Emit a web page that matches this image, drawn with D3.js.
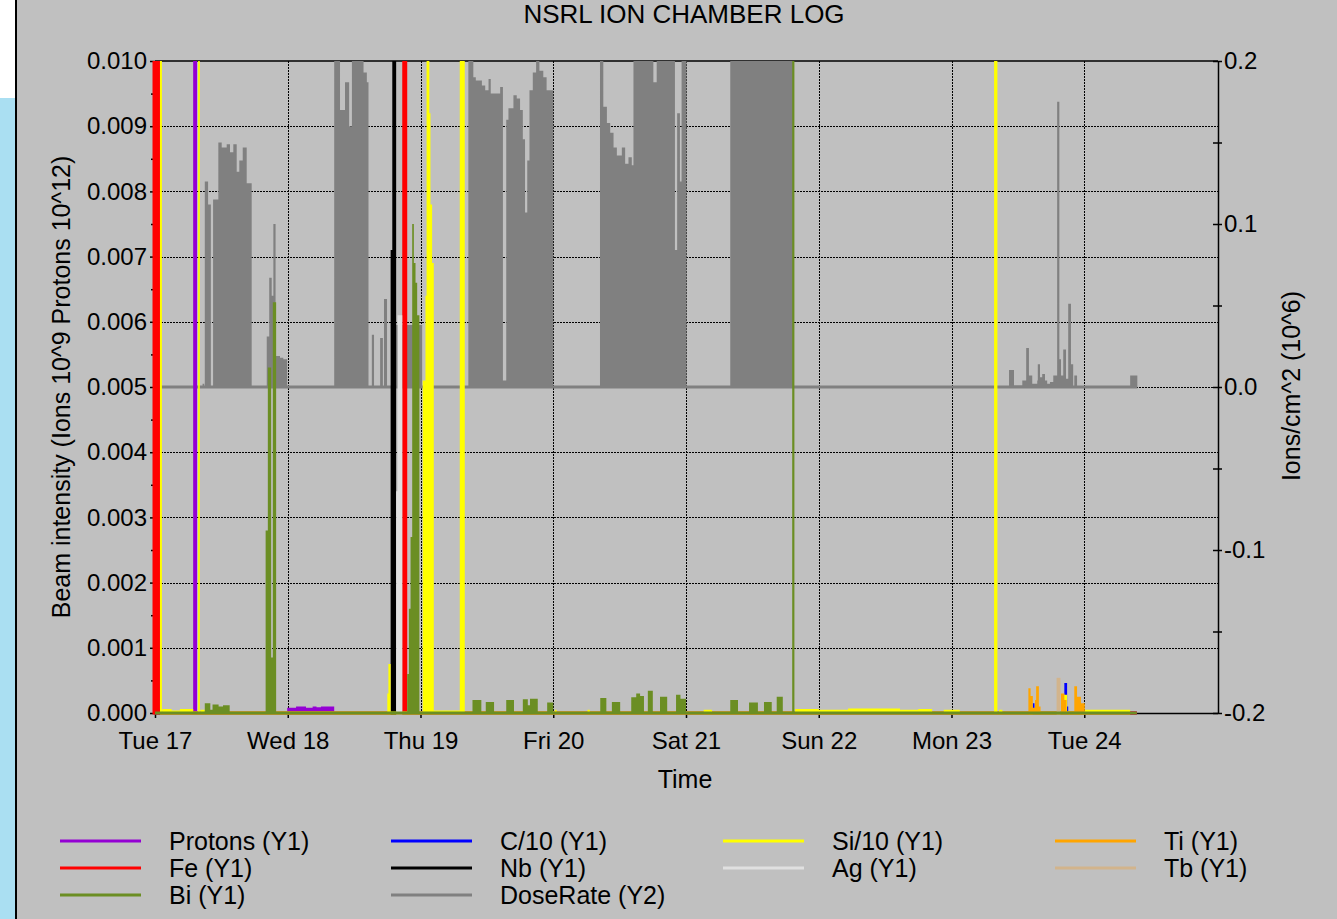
<!DOCTYPE html>
<html>
<head>
<meta charset="utf-8">
<script src="https://cdn.jsdelivr.net/npm/d3@7"></script>
<style>
  body { margin: 0; background: #c0c0c0; overflow: hidden; }
  svg text { font-family: "Liberation Sans", Arial, Helvetica, sans-serif; fill: #000; }
</style>
</head>
<body>
<svg id="chart" width="1337" height="919"></svg>
<script>
// ---- data: [hours since Tue 17 00:00, value] ----
var baseDate = new Date(2019, 8, 17); // Tue 17
var dayLabels = ["Tue 17", "Wed 18", "Thu 19", "Fri 20", "Sat 21", "Sun 22", "Mon 23", "Tue 24"];
var y1Ticks = [0, 0.001, 0.002, 0.003, 0.004, 0.005, 0.006, 0.007, 0.008, 0.009, 0.010];
var y2Ticks = [-0.2, -0.1, 0.0, 0.1, 0.2];

var seriesNames = ["Protons (Y1)", "Fe (Y1)", "Bi (Y1)", "C/10 (Y1)", "Nb (Y1)", "DoseRate (Y2)",
                   "Si/10 (Y1)", "Ag (Y1)", "Ti (Y1)", "Tb (Y1)"];
var seriesColors = ["#9400d3", "#ff0000", "#6b8e23", "#0000ff", "#000000", "#808080",
                    "#ffff00", "#e0e0e0", "#ffa500", "#d2b48c"];

var protons = [[0, 0], [6.9, 0.012], [7.6, 0], [23.9, 0.00008], [25.5, 0.0001], [27.3, 0.00008],
  [28.5, 0.0001], [29.2, 0.00009], [30.0, 0.0001], [32.4, 0], [177.5, 0]];

var fe = [[-0.45, 0.012], [0.9, 0], [44.7, 0.012], [45.6, 0], [177.5, 0]];

var bi = [[0, 0], [9.0, 0.00015], [10.0, 0.00005], [10.4, 0.00013], [11.5, 0.0001], [12.3, 0.00012],
  [13.5, 0], [20.0, 0.0028], [20.4, 0.0053], [21.0, 0.00085], [21.3, 0.0063], [21.9, 0],
  [45.6, 0.0006], [45.9, 0.0016], [46.2, 0.0027], [46.5, 0.0075], [46.8, 0.0069], [47.1, 0.0066],
  [47.4, 0.0061], [47.8, 0], [57.4, 0.0002], [59.0, 0], [59.8, 0.00017], [61.3, 0],
  [63.5, 0.0002], [64.9, 0], [66.5, 0.00021], [67.4, 0.00012], [67.8, 0.00022], [69.2, 0],
  [70.9, 0.00016], [72.0, 0], [80.5, 0.00023], [81.6, 0], [82.6, 0.00017], [84.1, 0],
  [86.1, 0.00024], [87.0, 0.0003], [87.7, 0.00026], [88.4, 0], [89.1, 0.00034], [90.0, 0],
  [91.3, 0.00025], [92.6, 0], [94.2, 0.00028], [95.0, 0.00022], [96.0, 0], [104.0, 0.0002],
  [105.4, 0], [107.4, 0.00016], [109.0, 0], [110.1, 0.00017], [111.5, 0], [112.4, 0.00025],
  [113.5, 0], [115.2, 0.012], [115.6, 0], [177.5, 0]];

var c10 = [[158.7, 0.00015], [159.0, 0], [164.4, 0.00046], [164.9, 0.0001], [165.1, 0]];

var nb = [[42.6, 0.0071], [42.9, 0.012], [43.6, 0]];

var doseRate = [[0, 0], [8.6, 0.002], [8.9, 0], [9.0, 0.126], [9.6, 0.112], [10.1, 0],
  [10.5, 0.115], [11.45, 0.150], [12.06, 0.147], [12.96, 0.149], [13.56, 0.144], [14.16, 0.149],
  [14.77, 0.132], [15.24, 0.139], [15.86, 0.147], [16.58, 0.125], [17.48, 0],
  [20.2, 0.031], [20.65, 0.067], [21.1, 0.056], [21.4, 0.100], [21.8, 0.019], [22.6, 0.018],
  [23.2, 0.017], [23.9, 0], [32.4, 0.25], [33.45, 0.170], [34.35, 0.187], [35.1, 0.160],
  [35.6, 0.25], [37.7, 0.193], [38.3, 0.187], [38.6, 0], [39.2, 0.032], [39.6, 0],
  [40.7, 0.030], [41.2, 0], [41.4, 0.054], [41.95, 0], [43.6, 0.038], [48.3, 0],
  [56.65, 0.25], [57.55, 0.190], [58.0, 0.188], [59.1, 0.185], [59.7, 0.182], [60.3, 0.189],
  [60.7, 0.180], [62.4, 0.184], [62.9, 0.004], [63.5, 0.164], [63.9, 0.171], [64.8, 0.179],
  [65.4, 0.177], [66.0, 0.170], [66.5, 0.152], [66.9, 0.107], [67.3, 0.139], [67.7, 0.182],
  [68.3, 0.193], [68.9, 0.25], [69.5, 0.194], [70.2, 0.190], [70.8, 0.182], [72.0, 0],
  [80.45, 0.25], [81.05, 0.172], [81.7, 0.162], [82.3, 0.156], [82.9, 0.147], [83.5, 0.142],
  [84.4, 0.147], [85.0, 0.137], [85.6, 0.141], [86.2, 0.136], [86.5, 0.25], [90.1, 0.187],
  [90.7, 0.25], [94.0, 0.084], [94.4, 0.168], [94.9, 0.126], [95.2, 0.25], [96.1, 0],
  [104.0, 0.25], [115.4, 0], [154.4, 0.0104], [155.3, 0.001], [156.8, 0.004], [157.5, 0.024],
  [158.0, 0.007], [158.6, 0.002], [159.5, 0.004], [159.6, 0.014], [160.0, 0.006], [160.4, 0.008],
  [160.9, 0.004], [161.3, 0.002], [161.8, 0.003], [162.4, 0.007], [163.1, 0.175], [163.5, 0.017],
  [163.8, 0.007], [164.2, 0.023], [164.7, 0.005], [165.1, 0.051], [165.6, 0.014], [166.0, 0],
  [166.2, 0.007], [166.7, 0], [176.3, 0.007], [177.6, 0]];

var si10 = [[0.9, 0.012], [1.25, 0], [1.3, 0.00006], [3.0, 0.00004], [4.5, 0.00006], [6.9, 0],
  [7.8, 0.012], [8.1, 0], [8.2, 0.00005], [9.0, 0], [42.0, 0.0003], [42.2, 0.00075], [42.6, 0],
  [48.4, 0.0051], [48.9, 0.0064], [49.1, 0.012], [49.6, 0.0092], [49.8, 0.0078], [50.1, 0.0069],
  [50.4, 0.00004], [55.1, 0.012], [56.0, 0], [72.3, 0.00005], [72.6, 0], [78.2, 0.00005],
  [78.6, 0], [99.2, 0.00005], [100.7, 0], [115.7, 0.00006], [120.0, 0.00005], [125.3, 0.00007],
  [134.7, 0.00005], [138.0, 0.00006], [140.5, 0], [142.6, 0.00005], [145.5, 0], [151.7, 0.012],
  [152.3, 0], [152.6, 0.00005], [153.2, 0], [164.2, 0.00028], [164.9, 0], [168.1, 0.00005],
  [176.3, 0]];

var ag = [[43.6, 0.0034], [43.85, 0.0061], [44.7, 0]];

var ti = [[157.9, 0.00038], [158.3, 0.00026], [158.7, 0.00008], [159.1, 0.0002], [159.3, 0.00041],
  [159.8, 0.0001], [160.1, 0], [163.8, 0.0003], [164.4, 0.0002], [164.8, 0], [166.2, 0.00041],
  [166.7, 0.00025], [167.4, 0.00015], [168.1, 0]];

var tb = [[163.0, 0.00054], [163.7, 0]];

// ---- chart ----
var svg = d3.select("#chart");
var plotLeft = 155, plotRight = 1218, plotTop = 61, plotBottom = 713;

function toDate(h) { return new Date(baseDate.getTime() + h * 3600000); }
var dayTicks = dayLabels.map(function (d, i) { return d3.timeDay.offset(baseDate, i); });

var x = d3.scaleTime().domain([baseDate, d3.timeDay.offset(baseDate, 8)]).range([plotLeft, 1217]);
var y1 = d3.scaleLinear().domain([0, 0.010]).range([plotBottom, plotTop]);
var y2 = d3.scaleLinear().domain([-0.2, 0.2]).range([plotBottom, plotTop]);

// left strip
svg.append("rect").attr("x", 0).attr("y", 0).attr("width", 16).attr("height", 98).attr("fill", "#ffffff");
svg.append("rect").attr("x", 0).attr("y", 98).attr("width", 16).attr("height", 821).attr("fill", "#aadff2");
svg.append("line").attr("x1", 16).attr("x2", 16).attr("y1", 0).attr("y2", 919)
  .attr("stroke", "#000").attr("stroke-width", 2);

// title
svg.append("text").attr("x", 684).attr("y", 23).attr("text-anchor", "middle")
  .style("font-size", "26px").text("NSRL ION CHAMBER LOG");

// gridlines
var grid = svg.append("g").attr("stroke", "#000").attr("stroke-width", 1).attr("stroke-dasharray", "2,1");
grid.selectAll("line.h").data(y1Ticks.filter(function (d) { return d > 0 && d < 0.010; }))
  .enter().append("line").attr("class", "h")
  .attr("x1", plotLeft).attr("x2", plotRight)
  .attr("y1", function (d) { return Math.round(y1(d)) + 0.5; })
  .attr("y2", function (d) { return Math.round(y1(d)) + 0.5; });
grid.selectAll("line.v").data(dayTicks.slice(1))
  .enter().append("line").attr("class", "v")
  .attr("x1", function (d) { return Math.round(x(d)) + 0.5; })
  .attr("x2", function (d) { return Math.round(x(d)) + 0.5; })
  .attr("y1", plotTop).attr("y2", plotBottom);

// frame top
svg.append("line").attr("x1", plotLeft).attr("x2", plotRight).attr("y1", plotTop).attr("y2", plotTop)
  .attr("stroke", "#000").attr("stroke-width", 1.5);

// left axis
var leftAxis = svg.append("g").attr("transform", "translate(" + plotLeft + ",0)")
  .call(d3.axisLeft(y1).tickValues(y1Ticks).tickFormat(d3.format(".3f")).tickSize(5).tickPadding(3).tickSizeOuter(0));
svg.append("g").attr("transform", "translate(" + plotLeft + ",0)")
  .call(d3.axisLeft(y1).tickValues(y1Ticks.slice(1).map(function (d) { return d - 0.0005; }))
    .tickFormat("").tickSize(4).tickSizeOuter(0))
  .select(".domain").remove();

// right axis
var rightAxis = svg.append("g").attr("transform", "translate(" + plotRight + ",0)")
  .call(d3.axisRight(y2).tickValues(y2Ticks).tickFormat(function (d) { return d.toFixed(1); })
    .tickSize(4).tickPadding(2).tickSizeOuter(0));
rightAxis.selectAll(".tick line").attr("x1", -5).attr("x2", 4);
var rightMinor = svg.append("g").attr("transform", "translate(" + plotRight + ",0)")
  .call(d3.axisRight(y2).tickValues([-0.15, -0.05, 0.05, 0.15]).tickFormat("").tickSize(4).tickSizeOuter(0));
rightMinor.select(".domain").remove();
rightMinor.selectAll(".tick line").attr("x1", -5).attr("x2", 4);

// bottom axis
var bottomAxis = svg.append("g").attr("transform", "translate(0," + plotBottom + ")")
  .call(d3.axisBottom(x).tickValues(dayTicks).tickFormat(function (d, i) { return dayLabels[i]; })
    .tickSize(5).tickPadding(14).tickSizeOuter(0));
bottomAxis.select(".domain").attr("d", "M" + plotLeft + ",0.5H" + plotRight);

[leftAxis, rightAxis, bottomAxis].forEach(function (g) {
  g.attr("font-family", null).attr("font-size", null);
  g.selectAll("text").style("font-size", "24px");
});
svg.selectAll(".domain, .tick line").attr("stroke", "#000").attr("stroke-width", 1.5);

// axis titles
svg.append("text").attr("x", 685).attr("y", 788).attr("text-anchor", "middle")
  .style("font-size", "25px").text("Time");
svg.append("text").attr("transform", "translate(70,387) rotate(-90)").attr("text-anchor", "middle")
  .style("font-size", "25px").text("Beam intensity (Ions 10^9 Protons 10^12)");
svg.append("text").attr("transform", "translate(1300,386) rotate(-90)").attr("text-anchor", "middle")
  .style("font-size", "25px").text("Ions/cm^2 (10^6)");

// data
svg.append("clipPath").attr("id", "plotClip").append("rect")
  .attr("x", 152).attr("y", plotTop).attr("width", plotRight - 152).attr("height", plotBottom + 2 - plotTop);
var dataLayer = svg.append("g").attr("clip-path", "url(#plotClip)");

function drawSeries(values, color, yScale) {
  var base = yScale(0);
  var area = d3.area()
    .curve(d3.curveStepAfter)
    .x(function (d) { return x(toDate(d[0])); })
    .y0(base + 1.5)
    .y1(function (d) { return Math.min(yScale(d[1]), base - 1.5); });
  dataLayer.append("path").datum(values).attr("d", area).attr("fill", color);
}

drawSeries(doseRate, seriesColors[5], y2);
drawSeries(protons, seriesColors[0], y1);
drawSeries(fe, seriesColors[1], y1);
drawSeries(c10, seriesColors[3], y1);
drawSeries(nb, seriesColors[4], y1);
drawSeries(si10, seriesColors[6], y1);
drawSeries(ag, seriesColors[7], y1);
drawSeries(ti, seriesColors[8], y1);
drawSeries(tb, seriesColors[9], y1);
drawSeries(bi, seriesColors[2], y1);

// legend: 4 columns, up to 3 rows
var legendCols = [[0, 1, 2], [3, 4, 5], [6, 7], [8, 9]];
var colX = [60, 391, 723, 1055];
var legend = svg.append("g");
legendCols.forEach(function (col, c) {
  col.forEach(function (si, r) {
    var yy = 841 + r * 27;
    legend.append("line").attr("x1", colX[c]).attr("x2", colX[c] + 81)
      .attr("y1", yy).attr("y2", yy).attr("stroke", seriesColors[si]).attr("stroke-width", 3);
    legend.append("text").attr("x", colX[c] + 109).attr("y", yy).attr("dy", "0.36em")
      .style("font-size", "25px").text(seriesNames[si]);
  });
});
</script>
</body>
</html>
